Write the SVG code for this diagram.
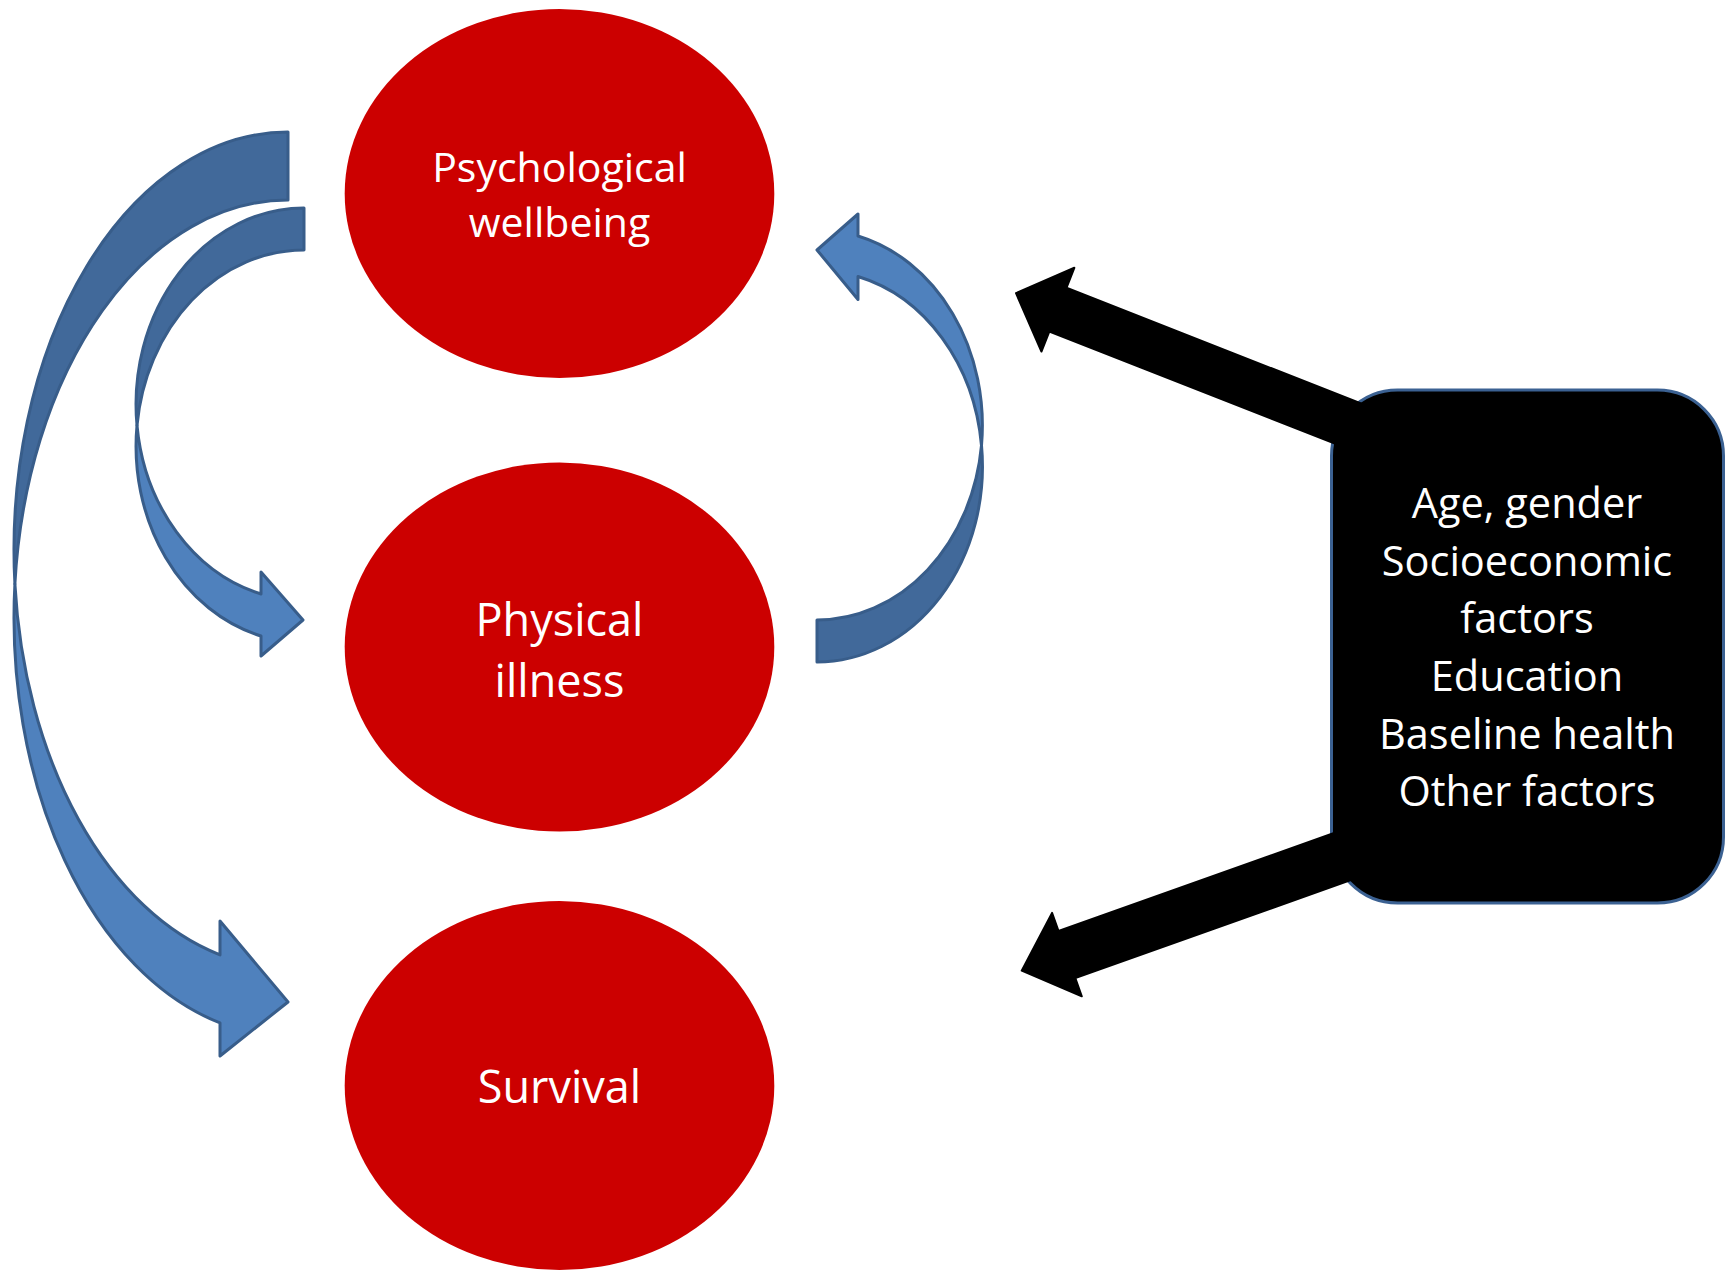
<svg xmlns="http://www.w3.org/2000/svg" width="1727" height="1270" viewBox="0 0 1727 1270">
  <style>
    .ell { fill:#cc0000; }
    .lbl { font-family:"Open Sans","Liberation Sans",sans-serif; fill:#ffffff; text-anchor:middle; }
    .back { fill:#41699a; stroke:#385d8a; stroke-width:3; stroke-linejoin:round; }
    .front { fill:#4f81bd; stroke:#385d8a; stroke-width:3; stroke-linejoin:round; }
    .blk { fill:#000000; stroke:#000000; stroke-width:2; stroke-linejoin:round; }
    .box { fill:#000000; stroke:#3b6192; stroke-width:3; }
  </style>
  <rect width="1727" height="1270" fill="#ffffff"/>

  <g id="psychological-wellbeing">
    <ellipse class="ell" cx="559.5" cy="193.5" rx="214.8" ry="184.5"/>
    <text class="lbl" x="559.5" y="182" font-size="41">Psychological</text>
    <text class="lbl" x="559.5" y="237" font-size="41">wellbeing</text>
  </g>

  <g id="physical-illness">
    <ellipse class="ell" cx="559.5" cy="647" rx="214.8" ry="184.5"/>
    <text class="lbl" x="559.5" y="635.5" font-size="45">Physical</text>
    <text class="lbl" x="559.5" y="697" font-size="45">illness</text>
  </g>

  <g id="survival">
    <ellipse class="ell" cx="559.5" cy="1085.5" rx="214.8" ry="184.5"/>
    <text class="lbl" x="559.5" y="1103" font-size="45">Survival</text>
  </g>

  <g id="confounders">
    <rect class="box" x="1331.5" y="390" width="392" height="513" rx="66" ry="66"/>
    <text class="lbl" x="1527" y="518" font-size="41.5">Age, gender</text>
    <text class="lbl" x="1527" y="576" font-size="41.5">Socioeconomic</text>
    <text class="lbl" x="1527" y="633" font-size="41.5">factors</text>
    <text class="lbl" x="1527" y="691" font-size="41.5">Education</text>
    <text class="lbl" x="1527" y="749" font-size="41.5">Baseline health</text>
    <text class="lbl" x="1527" y="806" font-size="41.5">Other factors</text>
  </g>

  <g id="connectors">
    <!-- Psychological wellbeing -> Survival -->
    <g id="arrow-psych-survival">
      <path class="back" d="M 288,132 A 274,418 0 0,0 14.9,584 A 274,418 0 0,1 288,200 Z"/>
      <path class="front" d="M 14.9,584 A 274,418 0 0,0 220,954.9 L 220,921 L 288,1002 L 220,1056 L 220,1022.9 A 274,418 0 0,1 14.9,584 Z"/>
    </g>
    <!-- Psychological wellbeing -> Physical illness -->
    <g id="arrow-psych-physical">
      <path class="back" d="M 304,208 A 168,196.3 0 0,0 137,425.3 A 168,196.3 0 0,1 304,250 Z"/>
      <path class="front" d="M 137,425.3 A 168,196.3 0 0,0 261,594 L 261,572 L 303,620 L 261,656 L 261,636 A 168,196.3 0 0,1 137,425.3 Z"/>
    </g>
    <!-- Physical illness -> Psychological wellbeing -->
    <g id="arrow-physical-psych">
      <path class="back" d="M 817,662 A 165.5,195.5 0 0,0 981.5,445.5 A 165.5,195.5 0 0,1 817,620 Z"/>
      <path class="front" d="M 981.5,445.5 A 165.5,195.5 0 0,0 858,276.5 L 858,299.5 L 817,250 L 858,214 L 858,236 A 165.5,195.5 0 0,1 981.5,445.5 Z"/>
    </g>
    <!-- Confounders -> Psychological wellbeing -->
    <path class="blk" transform="translate(1016,293.2) rotate(21.44)" d="M 0,0 L 45,-45 L 45,-23.5 L 425,-23.5 L 425,23.5 L 45,23.5 L 45,45 Z"/>
    <!-- Confounders -> Survival -->
    <path class="blk" transform="translate(1021.7,970.7) rotate(-19.6)" d="M 0,0 L 48,-44.3 L 48,-25 L 420,-25 L 420,25 L 48,25 L 48,44.3 Z"/>
  </g>
</svg>
